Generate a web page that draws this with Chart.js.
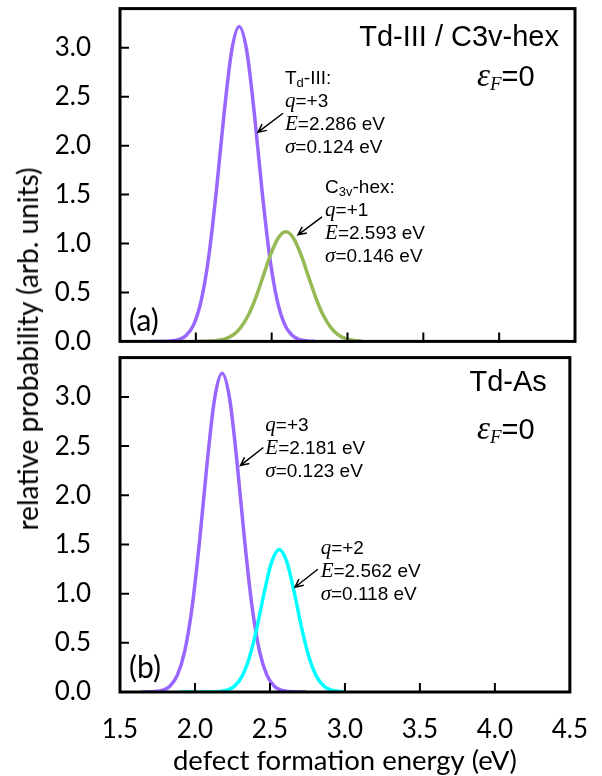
<!DOCTYPE html>
<html>
<head>
<meta charset="utf-8">
<script src="https://cdn.jsdelivr.net/npm/chart.js@4.4.1/dist/chart.umd.min.js"></script>
<style>
  body { margin: 0; background: #fff; overflow: hidden; }
  #wrap { position: relative; width: 602px; height: 776px; overflow: hidden; }
  #top-chart { position: absolute; left: 0; top: -7px; }
  #bottom-chart { position: absolute; left: 0; top: 342px; }
  #y-title {
    position: absolute; left: 27px; top: 349px;
    transform: translate(-50%, -50%) rotate(-90deg);
    white-space: nowrap; font: 28px Lato, sans-serif; color: #000;
  }
</style>
</head>
<body>
<div id="wrap">
  <canvas id="top-chart" width="602" height="364"></canvas>
  <canvas id="bottom-chart" width="602" height="436"></canvas>
  <div id="y-title">relative probability (arb. units)</div>
</div>
<script>
"use strict";

// axis ticks
const energyTicks = [1.5, 2.0, 2.5, 3.0, 3.5, 4.0, 4.5];
const probTicks = [0.0, 0.5, 1.0, 1.5, 2.0, 2.5, 3.0];

// (a) Td-III, q=+3
const tdIIIEnergy = [1.70, 1.786, 1.886, 1.936, 1.986, 2.036, 2.086, 2.136, 2.186, 2.236, 2.286, 2.336, 2.386, 2.436, 2.486, 2.536, 2.586, 2.636, 2.686, 2.736, 2.786];
const tdIIIProb = [0, 0.001, 0.018, 0.060, 0.172, 0.422, 0.876, 1.548, 2.324, 2.966, 3.217, 2.966, 2.324, 1.548, 0.876, 0.422, 0.172, 0.060, 0.018, 0.005, 0.001];

// (a) C3v-hex, q=+1
const c3vEnergy = [1.993, 2.093, 2.143, 2.193, 2.243, 2.293, 2.343, 2.393, 2.443, 2.493, 2.543, 2.593, 2.643, 2.693, 2.743, 2.793, 2.843, 2.893, 2.943, 2.993, 3.043, 3.093];
const c3vProb = [0, 0.003, 0.010, 0.026, 0.063, 0.136, 0.259, 0.438, 0.661, 0.886, 1.056, 1.12, 1.056, 0.886, 0.661, 0.438, 0.259, 0.136, 0.063, 0.026, 0.010, 0.003];

// (b) Td-As, q=+3
const tdAs3Energy = [1.641, 1.681, 1.731, 1.781, 1.831, 1.881, 1.931, 1.981, 2.031, 2.081, 2.131, 2.181, 2.231, 2.281, 2.331, 2.381, 2.431, 2.481, 2.531, 2.581, 2.631, 2.681, 2.741];
const tdAs3Prob = [0, 0.001, 0.004, 0.016, 0.057, 0.166, 0.410, 0.864, 1.540, 2.328, 2.983, 3.24, 2.983, 2.328, 1.540, 0.864, 0.410, 0.166, 0.057, 0.016, 0.004, 0.001, 0];

// (b) Td-As, q=+2
const tdAs2Energy = [1.892, 2.062, 2.112, 2.162, 2.212, 2.262, 2.312, 2.362, 2.412, 2.462, 2.512, 2.562, 2.612, 2.662, 2.712, 2.762, 2.812, 2.862, 2.912, 2.962, 2.992];
const tdAs2Prob = [0, 0, 0.001, 0.005, 0.018, 0.057, 0.154, 0.345, 0.646, 1.013, 1.325, 1.45, 1.325, 1.013, 0.646, 0.345, 0.154, 0.057, 0.018, 0.005, 0.002];

Chart.defaults.font.family = "Lato";
Chart.defaults.color = "#000";

const SANS = '19px "Liberation Sans"';
const SUB = '13px "Liberation Sans"';
const ITAL = 'italic 21px "Liberation Serif"';

function toPoints(xs, ys) {
  const pts = [];
  for (let i = 0; i < xs.length; i++) {
    pts.push({ x: xs[i], y: ys[i] });
  }
  return pts;
}

function curve(xs, ys, color) {
  return {
    data: toPoints(xs, ys),
    borderColor: color,
    borderWidth: 3.5,
    pointRadius: 0,
    showLine: true,
    fill: false,
    cubicInterpolationMode: "monotone",
  };
}

// draw a row of text pieces with different fonts
function drawRuns(ctx, x, y, runs) {
  ctx.textBaseline = "middle";
  ctx.textAlign = "left";
  for (const r of runs) {
    ctx.font = r.font;
    ctx.fillText(r.t, x, y + (r.dy || 0));
    x += ctx.measureText(r.t).width;
  }
}

function drawArrow(ctx, x1, y1, x2, y2) {
  const a = Math.atan2(y2 - y1, x2 - x1);
  ctx.strokeStyle = "#000";
  ctx.lineWidth = 1.5;
  ctx.beginPath();
  ctx.moveTo(x1, y1);
  ctx.lineTo(x2, y2);
  ctx.moveTo(x2 - 9 * Math.cos(a - 0.45), y2 - 9 * Math.sin(a - 0.45));
  ctx.lineTo(x2, y2);
  ctx.lineTo(x2 - 9 * Math.cos(a + 0.45), y2 - 9 * Math.sin(a + 0.45));
  ctx.stroke();
}

function labelLines(q, e, s) {
  return [
    [{ t: "q", font: ITAL }, { t: "=" + q, font: SANS }],
    [{ t: "E", font: ITAL }, { t: "=" + e + " eV", font: SANS }],
    [{ t: "σ", font: ITAL }, { t: "=" + s + " eV", font: SANS }],
  ];
}

// frame, inward ticks and text for one panel
function panelPlugin(opts) {
  return {
    id: "panel",
    afterDraw(chart) {
      const ctx = chart.ctx;
      const area = chart.chartArea;
      const xs = chart.scales.x;
      const ys = chart.scales.y;
      ctx.save();
      ctx.strokeStyle = "#000";
      ctx.lineWidth = 2;
      ctx.beginPath();
      for (const v of energyTicks.slice(1, -1)) {
        const px = xs.getPixelForValue(v);
        ctx.moveTo(px, area.bottom);
        ctx.lineTo(px, area.bottom - 9);
      }
      for (const v of probTicks.slice(1)) {
        const py = ys.getPixelForValue(v);
        ctx.moveTo(area.left, py);
        ctx.lineTo(area.left + 9, py);
      }
      ctx.stroke();
      ctx.lineWidth = 3;
      ctx.strokeRect(area.left, area.top, area.right - area.left, area.bottom - area.top);

      ctx.fillStyle = "#000";
      ctx.textBaseline = "middle";
      ctx.textAlign = "right";
      ctx.font = '29px "Liberation Sans"';
      ctx.fillText(opts.title, area.right - opts.titleRight, area.top + opts.titleDy);
      drawRuns(ctx, 477, area.top + opts.fermiDy, [
        { t: "ε", font: 'italic 33px "Liberation Serif"' },
        { t: "F", font: 'italic 19px "Liberation Serif"', dy: 7 },
        { t: "=0", font: '29px "Liberation Sans"' },
      ]);
      drawRuns(ctx, area.left + 9, area.bottom - opts.panelDy, [{ t: opts.panel, font: "30px Lato" }]);

      for (const n of opts.notes) {
        const x0 = xs.getPixelForValue(n.x);
        const y0 = ys.getPixelForValue(n.y);
        n.lines.forEach((runs, i) => drawRuns(ctx, x0, y0 + i * 23, runs));
        drawArrow(ctx, xs.getPixelForValue(n.arrow[0]), ys.getPixelForValue(n.arrow[1]),
          xs.getPixelForValue(n.arrow[2]), ys.getPixelForValue(n.arrow[3]));
      }
      ctx.restore();
    },
  };
}

function makeOptions(showX, xHeight) {
  return {
    responsive: false,
    animation: false,
    layout: { autoPadding: false, padding: { top: 0, right: 27, left: 0, bottom: 0 } },
    plugins: { legend: { display: false }, tooltip: { enabled: false } },
    scales: {
      x: {
        type: "linear",
        min: 1.5,
        max: 4.5,
        grid: { display: false },
        border: { display: false },
        ticks: {
          display: showX,
          stepSize: 0.5,
          padding: 14,
          font: { size: 26 },
          callback: (v) => v.toFixed(1),
        },
        title: {
          display: showX,
          text: "defect formation energy (eV)",
          font: { size: 27.5 },
          padding: { top: 0, bottom: 0 },
        },
        afterFit: (s) => { s.height = xHeight; },
      },
      y: {
        min: 0,
        max: 3.4,
        grid: { display: true, drawOnChartArea: false, color: "rgba(0,0,0,0)", tickLength: 29 },
        border: { display: false },
        ticks: {
          stepSize: 0.5,
          includeBounds: false,
          padding: 0,
          font: { size: 26 },
          callback: (v) => v.toFixed(1),
        },
        afterFit: (s) => { s.width = 120; },
      },
    },
  };
}

new Chart(document.getElementById("top-chart"), {
  type: "scatter",
  data: {
    datasets: [
      curve(c3vEnergy, c3vProb, "#94b955"),
      curve(tdIIIEnergy, tdIIIProb, "#9966ff"),
    ],
  },
  options: makeOptions(false, 8),
  plugins: [panelPlugin({
    title: "Td-III / C3v-hex",
    titleRight: 16,
    titleDy: 29,
    fermiDy: 69,
    panel: "(a)",
    panelDy: 20,
    notes: [
      {
        x: 2.588, y: 2.687,
        lines: [[{ t: "T", font: SANS }, { t: "d", font: SUB, dy: 5 }, { t: "-III:", font: SANS }]]
          .concat(labelLines("+3", "2.286", "0.124")),
        arrow: [2.575, 2.331, 2.41, 2.138],
      },
      {
        x: 2.852, y: 1.568,
        lines: [[{ t: "C", font: SANS }, { t: "3v", font: SUB, dy: 5 }, { t: "-hex:", font: SANS }]]
          .concat(labelLines("+1", "2.593", "0.146")),
        arrow: [2.832, 1.272, 2.674, 1.089],
      },
    ],
  })],
});

new Chart(document.getElementById("bottom-chart"), {
  type: "scatter",
  data: {
    datasets: [
      curve(tdAs2Energy, tdAs2Prob, "#00ffff"),
      curve(tdAs3Energy, tdAs3Prob, "#9966ff"),
    ],
  },
  options: makeOptions(true, 86),
  plugins: [panelPlugin({
    title: "Td-As",
    titleRight: 23,
    titleDy: 25,
    fermiDy: 73,
    panel: "(b)",
    panelDy: 24,
    notes: [
      {
        x: 2.469, y: 2.71,
        lines: labelLines("+3", "2.181", "0.123"),
        arrow: [2.456, 2.486, 2.304, 2.304],
      },
      {
        x: 2.838, y: 1.461,
        lines: labelLines("+2", "2.562", "0.118"),
        arrow: [2.819, 1.248, 2.667, 1.065],
      },
    ],
  })],
});
</script>
</body>
</html>
